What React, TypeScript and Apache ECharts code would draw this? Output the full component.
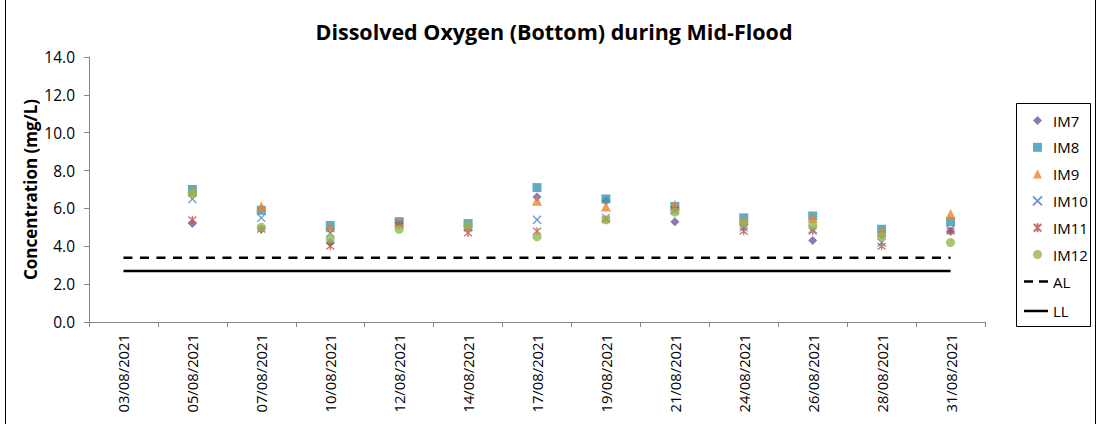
import React, { useEffect, useRef } from "react";
import * as echarts from "echarts";

const categories = [
  "03/08/2021", "05/08/2021", "07/08/2021", "10/08/2021", "12/08/2021", "14/08/2021", "17/08/2021",
  "19/08/2021", "21/08/2021", "24/08/2021", "26/08/2021", "28/08/2021", "31/08/2021",
];
const IM7 = [null, 5.2, 4.9, 4.2, 5.2, 5.0, 6.6, 6.4, 5.3, 5.1, 4.3, 4.6, 4.8];
const IM8 = [null, 7.0, 5.9, 5.1, 5.3, 5.2, 7.1, 6.5, 6.1, 5.5, 5.6, 4.9, 5.3];
const IM9 = [null, 6.9, 6.1, 5.0, 5.3, 5.1, 6.4, 6.1, 6.2, 5.4, 5.5, 4.8, 5.7];
const IM10 = [null, 6.5, 5.5, 4.7, 5.2, 5.0, 5.4, 5.5, 5.9, 5.0, 4.9, 4.2, 4.9];
const IM11 = [null, 5.4, 4.9, 4.0, 5.1, 4.7, 4.8, 5.4, 5.9, 4.8, 4.8, 4.0, 4.8];
const IM12 = [null, 6.8, 5.0, 4.4, 4.9, 5.1, 4.5, 5.4, 5.8, 5.2, 5.1, 4.5, 4.2];
const AL = [3.4, 3.4, 3.4, 3.4, 3.4, 3.4, 3.4, 3.4, 3.4, 3.4, 3.4, 3.4, 3.4];
const LL = [2.7, 2.7, 2.7, 2.7, 2.7, 2.7, 2.7, 2.7, 2.7, 2.7, 2.7, 2.7, 2.7];
const yTicks = ["0.0", "2.0", "4.0", "6.0", "8.0", "10.0", "12.0", "14.0"];
const stationNames = ["IM7", "IM8", "IM9", "IM10", "IM11", "IM12"];
const limitNames = ["AL", "LL"];

const FONT = "'Open Sans', 'Noto Sans', sans-serif";

export default function App() {
  const ref = useRef<HTMLDivElement>(null);
  useEffect(() => {
    document.body.style.margin = "0";
    const chart = echarts.init(ref.current!, undefined, { renderer: "svg" });
    const scatter = (name: string, data: any[], symbol: string, size: number, style: any) => ({
      name,
      type: "scatter",
      data,
      symbol,
      symbolSize: size,
      itemStyle: style,
    });
    chart.setOption({
      animation: false,
      backgroundColor: "#fff",
      textStyle: { fontFamily: FONT },
      title: {
        text: "Dissolved Oxygen (Bottom) during Mid-Flood",
        left: 549,
        textAlign: "center",
        top: 15,
        textStyle: { fontFamily: FONT, fontSize: 21.5, fontWeight: "bold", color: "#000" },
      },
      grid: { left: 89, right: 114, top: 57, bottom: 102 },
      legend: [
        {
          orient: "vertical",
          left: 1032,
          top: 113,
          padding: 0,
          itemWidth: 9,
          itemHeight: 9,
          itemGap: 11.8,
          textStyle: { fontFamily: FONT, fontSize: 15, color: "#000", padding: [0, 0, 0, 6] },
          data: stationNames,
        },
        {
          orient: "vertical",
          left: 1024,
          top: 274,
          padding: 0,
          itemWidth: 24,
          itemHeight: 2.5,
          itemGap: 14.5,
          textStyle: { fontFamily: FONT, fontSize: 15, color: "#000" },
          data: [
            { name: limitNames[0], icon: "path://M0,0h9v2.5h-9z M15,0h9v2.5h-9z" },
            { name: limitNames[1], icon: "rect" },
          ],
        },
      ],
      xAxis: {
        type: "category",
        data: categories,
        boundaryGap: true,
        axisLine: { lineStyle: { color: "#868686" } },
        axisTick: { show: true, length: 5, lineStyle: { color: "#868686" } },
        axisLabel: { rotate: 90, margin: 12, fontSize: 14.8, color: "#000", fontFamily: FONT, interval: 0 },
        splitLine: { show: false },
      },
      yAxis: {
        type: "value",
        min: 0,
        max: 14,
        interval: 2,
        name: "Concentration (mg/L)",
        nameLocation: "middle",
        nameGap: 50,
        nameMoveOverlap: false,
        nameTextStyle: { fontFamily: FONT, fontSize: 17, fontWeight: "bold", color: "#000" },
        axisLine: { show: true, lineStyle: { color: "#868686" } },
        axisTick: { show: true, length: 5, lineStyle: { color: "#868686" } },
        axisLabel: {
          margin: 14,
          fontSize: 15.5,
          color: "#000",
          fontFamily: FONT,
          formatter: (v: number) => yTicks[Math.round(v / 2)] ?? v.toFixed(1),
        },
        splitLine: { show: false },
      },
      series: [
        {
          name: limitNames[0],
          type: "line",
          data: AL,
          symbol: "none",
          showSymbol: false,
          itemStyle: { color: "#000" },
          lineStyle: { color: "#000", width: 2.5, type: [9, 7.5] },
          z: 1,
        },
        {
          name: limitNames[1],
          type: "line",
          data: LL,
          symbol: "none",
          showSymbol: false,
          itemStyle: { color: "#000" },
          lineStyle: { color: "#000", width: 2.5 },
          z: 1,
        },
        scatter(stationNames[0], IM7, "diamond", 9, { color: "#7454A0" }),
        scatter(stationNames[1], IM8, "rect", 9, { color: "#3797B4" }),
        scatter(stationNames[2], IM9, "triangle", 10, { color: "#E8832F" }),
        scatter(stationNames[3], IM10, "path://M0,0L10,10M10,0L0,10", 8, {
          color: "transparent",
          borderColor: "#4A7EBB",
          borderWidth: 1.3,
        }),
        scatter(stationNames[4], IM11, "path://M0,0L10,10M10,0L0,10M5,-1L5,11", 8, {
          color: "transparent",
          borderColor: "#BE4B48",
          borderWidth: 1.3,
        }),
        scatter(stationNames[5], IM12, "circle", 9, { color: "#93B84E" }),
      ],
      graphic: [
        {
          type: "rect",
          shape: { x: 5.5, y: -2, width: 1090, height: 430 },
          style: { fill: "none", stroke: "#000", lineWidth: 1 },
          silent: true,
        },
        {
          type: "rect",
          shape: { x: 1016.5, y: 103.5, width: 74, height: 223 },
          style: { fill: "none", stroke: "#000", lineWidth: 1 },
          silent: true,
        },
      ],
    });
    return () => chart.dispose();
  }, []);
  return <div ref={ref} style={{ width: 1099, height: 424, position: "absolute", left: 0, top: 0 }} />;
}
